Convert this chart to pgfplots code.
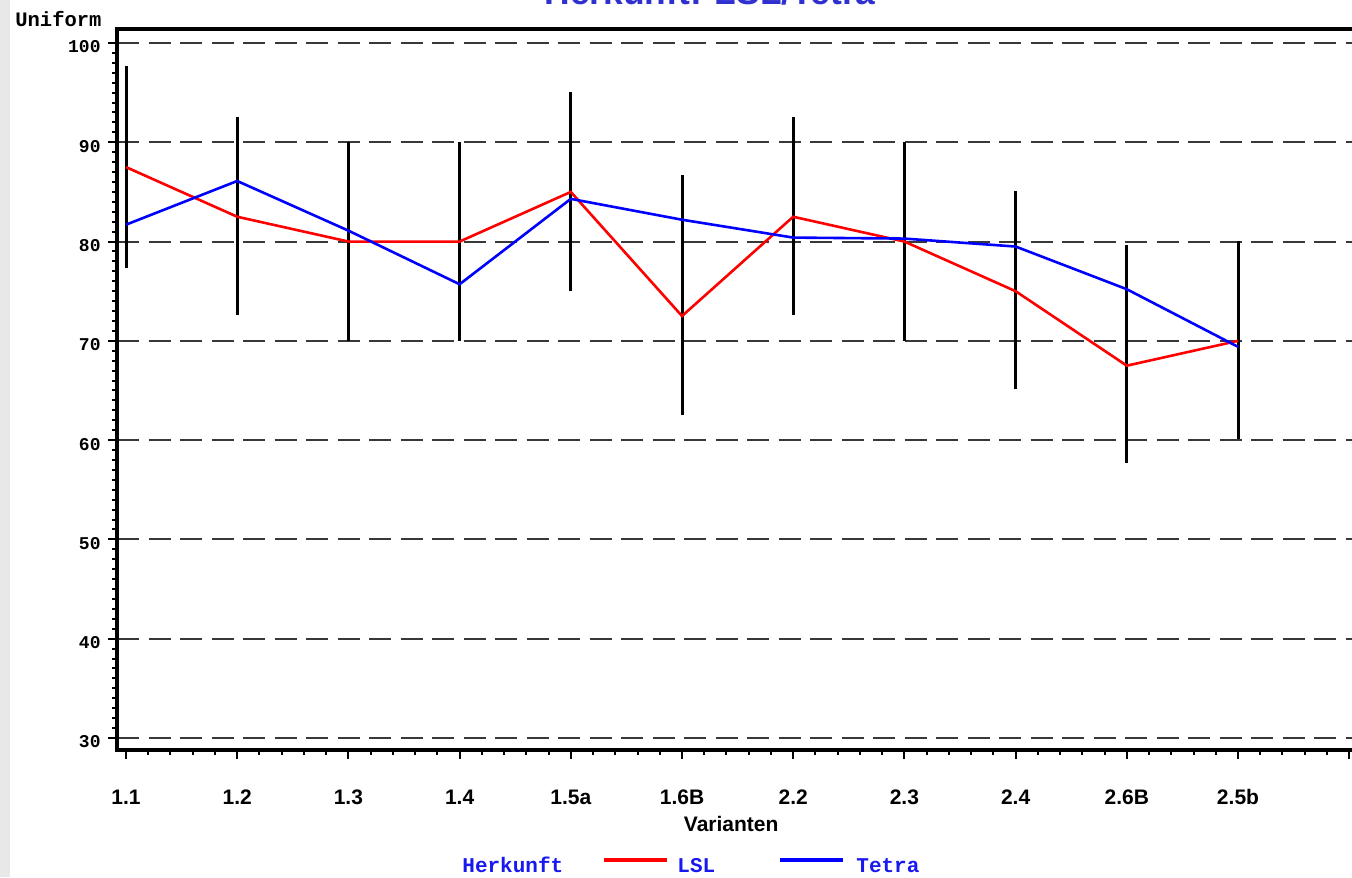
\documentclass[border=0pt]{standalone}
\usepackage{fontspec}
\setmainfont{Liberation Sans}
\newfontfamily\pxmono{Liberation Mono}
\usepackage{pgfplots}
\pgfplotsset{compat=1.18}
\usepackage{pgfplotstable}
\definecolor{lslred}{RGB}{255,0,0}
\definecolor{tetrablue}{RGB}{0,0,255}
\definecolor{ttlblue}{RGB}{48,48,208}
\definecolor{legblue}{RGB}{24,24,240}
\definecolor{gridgray}{RGB}{56,56,56}
\definecolor{stripgray}{RGB}{232,232,232}

\pgfplotstableread{
x lsl tetra lo hi
0 87.5 81.7 77.3 97.7
1 82.5 86.1 72.6 92.5
2 80.0 81.1 70.0 90.0
3 80.0 75.7 70.0 90.0
4 85.0 84.3 75.0 95.1
5 72.5 82.2 62.5 86.7
6 82.5 80.4 72.6 92.5
7 80.0 80.3 70.0 90.0
8 75.0 79.5 65.1 85.1
9 67.5 75.2 57.7 79.7
10 70.0 69.4 60.1 80.05
}\data

\begin{document}
\begin{tikzpicture}
\useasboundingbox (0pt,0pt) rectangle (676pt,438.5pt);
\fill[stripgray] (0pt,0pt) rectangle (5pt,438.5pt);
\begin{axis}[
  at={(58.5pt,63.5pt)}, anchor=south west,
  scale only axis, width=621.65pt, height=360.5pt,
  xmin=-0.081, xmax=11.1, ymin=28.79, ymax=101.41,
  axis line style={line width=1.6pt},
  xtick={0,...,11},
  xticklabels={1.1,1.2,1.3,1.4,1.5a,1.6B,2.2,2.3,2.4,2.6B,2.5b,{}},
  minor x tick num=4,
  ytick={30,40,...,100},
  yticklabels={30,40,50,60,70,80,90,100},
  minor y tick num=9,
  tick align=outside, xtick pos=left, ytick pos=left,
  major tick length=4.5pt, minor tick length=2.5pt,
  tick style={black, line width=1pt},
  ymajorgrids,
  major grid style={gridgray, line width=1pt, dash pattern=on 11pt off 4.75pt},
  xticklabel style={font=\fontsize{10.5pt}{12pt}\selectfont\bfseries, anchor=base, yshift=-23pt},
  yticklabel style={font=\pxmono\fontsize{9pt}{10pt}\selectfont\bfseries, anchor=base east, inner sep=0pt, xshift=-3.5pt, yshift=-5pt},
  xlabel={Varianten},
  xlabel style={font=\fontsize{10.5pt}{12pt}\selectfont\bfseries, at={(rel axis cs:0.494,0)}, anchor=base, yshift=-41pt},
  ylabel={Uniform},
  every axis y label/.style={at={(rel axis cs:0,1)}, anchor=base west, inner sep=0pt, xshift=-51pt, yshift=1pt, font=\pxmono\fontsize{10.25pt}{12pt}\selectfont\bfseries},
]
\addplot[draw=none, mark=none, forget plot,
  error bars/.cd, y dir=plus, y explicit, error mark=none,
  error bar style={draw=black, line width=1.5pt, solid}]
  table[x=x, y=lo, y error expr=\thisrow{hi}-\thisrow{lo}] {\data};
\addplot[lslred, line width=1.3pt, mark=none] table[x=x, y=lsl] {\data};
\addplot[tetrablue, line width=1.3pt, mark=none] table[x=x, y=tetra] {\data};
\end{axis}
\begin{scope}[x=0.5pt,y=0.5pt]
\node[anchor=base, text=ttlblue, inner sep=0pt, font=\fontsize{17.7pt}{20pt}\selectfont\bfseries] at (710,872) {Herkunft: LSL/Tetra};
\node[anchor=base west, text=legblue, inner sep=0pt, font=\pxmono\fontsize{10.5pt}{12pt}\selectfont\bfseries] at (462,5) {Herkunft};
\draw[lslred, line width=2pt] (604,17.5) -- (667,17.5);
\node[anchor=base west, text=legblue, inner sep=0pt, font=\pxmono\fontsize{10.5pt}{12pt}\selectfont\bfseries] at (677,5) {LSL};
\draw[tetrablue, line width=2pt] (780,17.5) -- (843,17.5);
\node[anchor=base west, text=legblue, inner sep=0pt, font=\pxmono\fontsize{10.5pt}{12pt}\selectfont\bfseries] at (856,5) {Tetra};
\end{scope}
\end{tikzpicture}
\end{document}
